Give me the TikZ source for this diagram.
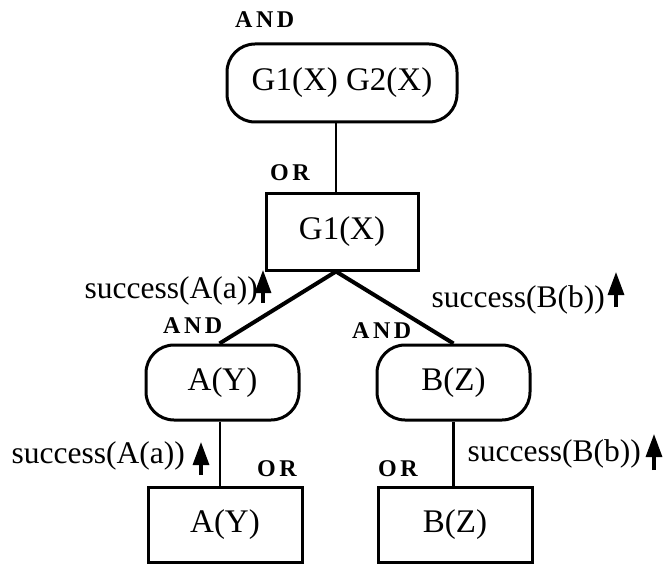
\documentclass[tikz,border=0pt]{standalone}
\usepackage{fontspec}
\setmainfont{Liberation Serif}
\usetikzlibrary{arrows.meta}
\begin{document}
\begin{tikzpicture}[x=1pt,y=-1pt,
  goal/.style={draw,line width=3pt,inner sep=0pt,font=\fontsize{33}{38}\selectfont},
  andnode/.style={goal,rounded corners=28pt},
  ornode/.style={goal},
  tag/.style={inner sep=0pt,font=\fontsize{24}{26}\selectfont\bfseries},
  msg/.style={inner sep=0pt,font=\fontsize{31.5}{36}\selectfont},
  link/.style={line width=2.2pt},
  branch/.style={line width=4pt},
  up/.style={line width=3.2pt,-{Triangle[length=23pt,width=16pt]}}]
\useasboundingbox (0,0) rectangle (663,564);

% goal nodes
\node[andnode,minimum width=230pt,minimum height=78pt] (top) at (342,83) {G1(X) G2(X)};
\node[ornode,minimum width=152pt,minimum height=77pt] (g1) at (342,231.5) {G1(X)};
\node[andnode,minimum width=153pt,minimum height=75pt] (ay) at (222.5,382.5) {A(Y)};
\node[andnode,minimum width=153pt,minimum height=75pt] (bz) at (453.5,382.5) {B(Z)};
\node[ornode,minimum width=154pt,minimum height=75pt] (ayb) at (225,524.5) {A(Y)};
\node[ornode,minimum width=154pt,minimum height=75pt] (bzb) at (455,524.5) {B(Z)};

% AND / OR tags
\node[tag,anchor=base west] (t0) at (235,28) {A\hspace{3.5pt}N\hspace{3.5pt}D};
\node[tag,anchor=base west] (t1) at (270,180) {O\hspace{3.5pt}R};
\node[tag,anchor=base west] (t2) at (163,333) {A\hspace{3.5pt}N\hspace{3.5pt}D};
\node[tag,anchor=base west] (t3) at (352,338) {A\hspace{3.5pt}N\hspace{3.5pt}D};
\node[tag,anchor=base west] (t4) at (257,476) {O\hspace{3.5pt}R};
\node[tag,anchor=base west] (t5) at (378,476) {O\hspace{3.5pt}R};

% connectors
\coordinate (apex) at ([xshift=-6pt]g1.south);
\draw[link] ([xshift=-6pt]top.south) -- ([xshift=-6pt]g1.north);
\draw[branch] ([xshift=-3pt]ay.north) -- (apex) -- (bz.north);
\draw[link] ([xshift=-2.5pt]ay.south) -- ([xshift=-2.5pt]ay.south |- ayb.north);
\draw[link] (bz.south) -- (bz.south |- bzb.north);

% success messages passed upwards
\node[msg,anchor=base east] (m1) at (258,298) {success(A(a))};
\node[msg,anchor=base east] (m2) at (605,307) {success(B(b))};
\node[msg,anchor=base east] (m3) at (185,463) {success(A(a))};
\node[msg,anchor=base east] (m4) at (641,461) {success(B(b))};
\coordinate (a1s) at (263,303); \coordinate (a1e) at (263,270);
\coordinate (a2s) at (616,307); \coordinate (a2e) at (616,272);
\coordinate (a3s) at (201,475); \coordinate (a3e) at (201,442);
\coordinate (a4s) at (654,470); \coordinate (a4e) at (654,434);
\draw[up] (a1s) -- (a1e);
\draw[up] (a2s) -- (a2e);
\draw[up] (a3s) -- (a3e);
\draw[up] (a4s) -- (a4e);
\end{tikzpicture}
\end{document}
